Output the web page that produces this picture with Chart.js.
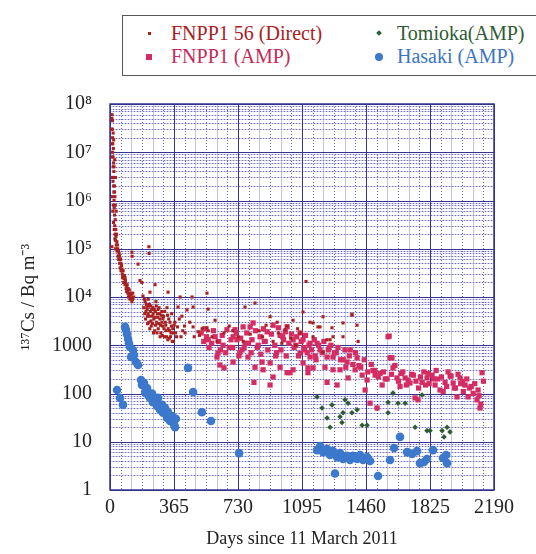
<!DOCTYPE html>
<html lang="en">
<head>
  <meta charset="UTF-8" />
  <title>137Cs concentration</title>
  <style>
    body {
      margin: 0;
      background: #ffffff;
      font-family: "Liberation Serif", serif;
    }
    .wrap {
      position: relative;
      width: 536px;
      height: 554px;
    }
    .legend {
      position: absolute;
      left: 122px;
      top: 15px;
      width: 420px;
      height: 61px;
      border: 1.5px solid #555;
      box-sizing: border-box;
      background: #fff;
    }
    .item {
      position: absolute;
      font-family: "Liberation Serif", "Times New Roman", serif;
      font-size: 20px;
      line-height: 22px;
      white-space: nowrap;
    }
    .mk {
      position: absolute;
      display: block;
    }
  </style>
  <script src="https://cdn.jsdelivr.net/npm/chart.js"></script>
</head>
<body>

<div class="wrap">
  <canvas id="chart" width="536" height="554"></canvas>
  <div class="legend">
    <div class="item" style="left:48px; top:6px; color:#a8201f;">FNPP1 56 (Direct)</div>
    <span class="mk" style="left:25px; top:16px; width:3px; height:3px; background:#a8201f;"></span>
    <div class="item" style="left:48px; top:29px; color:#c42a5a;">FNPP1 (AMP)</div>
    <span class="mk" style="left:23px; top:38px; width:6px; height:6px; background:#d42c63;"></span>
    <div class="item" style="left:274px; top:6px; color:#2f5b34;">Tomioka(AMP)</div>
    <span class="mk" style="left:254px; top:15px; width:4px; height:4px; background:#2f5b34; transform:rotate(45deg);"></span>
    <div class="item" style="left:274px; top:29px; color:#3c74c4;">Hasaki (AMP)</div>
    <span class="mk" style="left:252px; top:37px; width:8px; height:8px; border-radius:50%; background:#3c78cc;"></span>
  </div>
</div>

<script>
  // FNPP1 port (unit 5/6 outlet), direct sampling
  const directDays = [
    12, 13, 14, 15, 15, 16, 17, 18, 18, 19, 20, 20, 21, 22, 22, 23, 24, 25, 26, 27, 28, 29, 30, 31, 32, 33, 11,
    10, 11, 12, 13, 14, 14, 16, 17, 19, 20, 21, 23, 24, 26, 27, 28, 30, 31, 34, 35, 37, 39,
    36, 40, 44, 46, 50, 52, 55, 58, 60, 63, 66, 70, 72, 75, 78, 82, 85, 88, 92, 95, 98, 102, 106, 110, 115, 120, 125,
    42, 48, 54, 62, 68, 74, 80, 86, 90, 96, 100, 104, 108, 112, 118, 122, 128, 130, 135,
    125, 126, 160, 171, 182, 222, 223, 257, 331, 188, 228, 388, 400, 468, 474, 553, 559,
    200, 205, 210, 215, 218, 222, 225, 230, 235, 240, 245, 250, 255, 258, 262, 266, 270, 275, 280, 285, 290, 295,
    300, 305, 310, 315, 320, 325, 330, 335, 340, 345, 350, 355, 360, 370, 380,
    192, 196, 198, 203, 207, 212, 214, 217, 220, 224, 227, 232, 234, 238, 242, 246, 248, 252, 256, 260,
    264, 268, 272, 274, 278, 282, 286, 288, 292, 296, 298, 302, 308, 312, 318, 322, 328, 332, 338, 342,
    348, 352, 358, 362, 366, 374, 385, 395, 405, 415,
    410, 425, 428, 439, 455, 474, 480, 502, 510, 525, 553, 560, 582, 599, 610,
    650, 680, 700, 730, 760, 770, 800, 827,
    850, 870, 890, 913, 930, 953, 960, 980, 998, 1010, 1030, 1044, 1060, 1070, 1084, 1118,
    1101, 1141, 1158, 1158, 1186, 1198, 1215, 1215, 1238, 1255, 1266, 1272, 1329, 1329, 1380, 1380, 1409, 1415
  ];
  const directVals = [
    6e7, 3e7, 4.5e7, 2e7, 1e7, 1.5e7, 8e6, 5e6, 2.5e7, 1.2e7, 3e6, 6e6, 2e6, 1.5e6, 4e6, 1e6, 7e5, 2e6, 5e5, 3e5, 1.2e6, 2e5, 4e5, 1.5e5, 1e5, 2.5e5, 1.1e5,
    3e7, 5e7, 1.5e7, 8e6, 3e6, 1.2e6, 6e5, 2.5e6, 8e5, 3.5e5, 1.8e7, 5e6, 2.5e5, 1.5e6, 7e6, 1.6e5, 8e5, 3e6, 1.8e5, 6e5, 2e5, 1.4e5,
    1.2e5, 9e4, 1e5, 7e4, 6e4, 8e4, 5e4, 4e4, 6e4, 3.5e4, 4.5e4, 3e4, 2.5e4, 3.5e4, 2e4, 2.8e4, 1.8e4, 2.2e4, 1.5e4, 1.3e4, 1.8e4, 1.2e4, 1e4, 1.4e4, 9000, 1.1e4, 8000,
    1.2e5, 9e4, 7e4, 5e4, 3.8e4, 2.7e4, 2.4e4, 2.5e4, 1.9e4, 1.6e4, 1.4e4, 1.5e4, 1.15e4, 1.05e4, 1.2e4, 9500, 9000, 1.2e4, 1e4,
    8.5e4, 7e4, 4.8e4, 2.2e4, 2e4, 1.1e5, 8e4, 1.8e4, 1.26e4, 1.05e4, 1.26e4, 6200, 1e4, 1e4, 6200, 1.2e4, 5600,
    8000, 5000, 6000, 4000, 9000, 3000, 7000, 5000, 2500, 4000, 6000, 3500, 2000, 5000, 8000, 3000, 4500, 2200, 6000, 3500, 1800, 5000,
    2500, 4000, 1500, 3000, 2000, 6000, 1300, 3500, 2000, 1500, 2500, 1200, 1800, 3000, 1500,
    6000, 9000, 4500, 3500, 7000, 5500, 2800, 4500, 6500, 4000, 2200, 6500, 3200, 5500, 2800, 4500, 1800, 5500, 3800, 2600,
    6500, 1800, 3800, 5500, 2800, 4500, 1500, 2600, 4200, 3000, 1600, 3600, 2200, 5000, 2600, 1500, 4200, 2200, 1400, 3000,
    1800, 4500, 2200, 1200, 2600, 1800, 2400, 3500, 1500, 2000,
    4000, 2500, 1800, 5400, 3000, 2400, 1500, 1900, 1600, 2200, 2300, 2000, 1500, 3300, 1200,
    1800, 2500, 2000, 1500, 1200, 6200, 1700, 7500,
    2000, 1500, 2600, 3900, 1200, 3000, 1800, 1100, 2100, 2500, 1400, 3300, 1000, 2200, 1800, 2.1e4,
    4900, 3000, 2900, 1500, 2400, 2400, 3900, 720, 1300, 1300, 2300, 1500, 1500, 2900, 4200, 4400, 2600, 1200
  ];

  // FNPP1 port, automatic monitoring post
  const ampDays = [
    520, 535, 550, 565, 580, 599, 610, 616, 627, 645, 650, 667, 702, 702, 713, 724, 753, 759, 787, 799,
    816, 821, 827, 856, 867, 873, 896, 913, 913, 930, 930, 970, 970, 1010, 1010, 1027, 1044, 1044, 1084, 1084,
    1101, 1101, 1129, 1129, 1141, 1141, 1158, 1181, 1198, 1226, 1238, 1238, 1272, 1272, 1295, 1312, 1352, 1358, 1398, 1409,
    1438, 1455, 1466, 1483, 1512, 1523, 1552, 1586, 1592, 1597, 1608, 1614, 1637, 1654, 1683, 1711, 1740, 1757, 1780, 1808,
    1837, 1854, 1882, 1911, 1928, 1957, 1979, 1996, 2025, 2042, 2071, 2093, 2099, 2110, 2122,
    680, 740, 770, 840, 880, 950, 990, 1060, 1110, 1170, 1250, 1290, 1330, 1370, 1420, 1500, 1540, 1570, 1660, 1700,
    1730, 1760, 1790, 1820, 1870, 1900, 1940, 1970, 2010, 2060,
    540, 560, 590, 620, 630, 640, 660, 690, 700, 720, 735, 745, 765, 780, 790, 805, 810, 830, 845, 860,
    875, 885, 900, 920, 940, 945, 960, 975, 985, 1000, 1005, 1020, 1035, 1050, 1065, 1075, 1090, 1105, 1115, 1125,
    1135, 1150, 1165, 1175, 1190, 1210, 1220, 1245, 1260, 1280, 1300, 1315, 1340, 1345, 1365, 1385, 1400, 1430, 1450, 1470,
    1490, 1510, 1530, 1560, 1580, 1605, 1625, 1645, 1670, 1690, 1720, 1745, 1770, 1800, 1815, 1845, 1860, 1890, 1920, 1945,
    1965, 1985, 2000, 2015, 2035, 2050, 2080, 2105, 2115, 2130
  ];
  const ampVals = [
    1800, 1200, 1500, 900, 1100, 1500, 570, 690, 390, 1000, 340, 2100, 1500, 450, 2100, 1300, 800, 2400, 570, 2400,
    2900, 170, 350, 1500, 450, 310, 1900, 150, 430, 2600, 220, 1600, 350, 2400, 270, 270, 1300, 310, 1800, 690,
    1300, 430, 340, 270, 570, 1100, 340, 1100, 800, 350, 170, 570, 570, 310, 150, 310, 450, 210, 310, 550,
    240, 118, 190, 63, 240, 50, 150, 1500, 1550, 550, 550, 340, 210, 140, 210, 165, 81, 74, 170, 210,
    240, 150, 118, 170, 280, 165, 85, 210, 150, 85, 100, 74, 118, 50, 270,
    900, 700, 1100, 900, 1200, 700, 1300, 1000, 800, 600, 900, 700, 500, 800, 380, 300, 260, 200, 260, 190,
    240, 130, 280, 160, 200, 110, 230, 130, 180, 140,
    2200, 1300, 2000, 1200, 800, 1600, 700, 1300, 900, 1800, 600, 1400, 900, 1800, 1100, 700, 1300, 2000, 1000, 650,
    2200, 1200, 800, 1700, 1000, 600, 2300, 800, 1500, 1900, 600, 1100, 1700, 900, 1500, 600, 1200, 900, 1600, 700,
    1000, 800, 1300, 500, 1000, 700, 1200, 800, 1000, 700, 900, 500, 800, 350, 600, 400, 700, 350, 500, 280,
    400, 300, 220, 280, 200, 250, 380, 180, 280, 150, 250, 180, 220, 150, 260, 200, 300, 220, 140, 230,
    130, 250, 160, 110, 200, 130, 160, 90, 60, 180
  ];

  // Tomioka fishing port
  const tomiokaDays = [
    1181, 1209, 1238, 1266, 1255, 1312, 1329, 1323, 1358, 1341, 1380, 1409, 1438, 1466,
    1523, 1586, 1586, 1614, 1643, 1683, 1740, 1780, 1808, 1825, 1894, 1922, 1939, 1905
  ];
  const tomiokaVals = [
    85, 50, 31, 58, 20, 33, 40, 25, 63, 74, 40, 46, 22, 22,
    50, 66, 40, 102, 63, 63, 20, 93, 17, 17, 17, 20, 16, 12.6
  ];

  // Hasaki (reference site)
  const hasakiDays = [
    40, 57, 74, 86, 91, 97, 103, 108, 114, 120, 131, 137, 148, 160,
    177, 182, 194, 200, 211, 217, 228, 240, 245, 257, 268, 274, 285, 297, 302, 314, 325, 331, 342, 354, 365, 376, 371,
    445, 474, 524, 576, 736,
    1181, 1198, 1215, 1238, 1255, 1272, 1295, 1312, 1329, 1352, 1369, 1386, 1409, 1426, 1443, 1466, 1483,
    1283, 1529, 1597, 1620, 1654, 1694, 1723, 1751, 1768, 1791, 1808, 1842, 1899, 1917, 1922
  ];
  const hasakiVals = [
    118, 81, 58, 2400, 2100, 1700, 1350, 1100, 920, 570, 800, 630, 450, 390,
    190, 150, 165, 107, 130, 93, 81, 100, 66, 74, 55, 81, 46, 58, 40, 50, 31, 41, 27, 34, 23, 30, 20,
    340, 107, 41, 27, 5.8,
    6.7, 8.1, 6.1, 7.1, 5.3, 6.4, 4.8, 5.8, 4.4, 5.1, 4.2, 5.1, 4.4, 5.3, 4.2, 4.8, 4.0,
    2.2, 1.95, 4.2, 7.4, 12.6, 6.1, 5.6, 6.4, 3.6, 3.8, 4.4, 6.7, 4.6, 5.3, 3.6
  ];

  const xTicks = [0, 365, 730, 1095, 1460, 1825, 2190];
  const yTicks = [1, 10, 100, 1000, 1e4, 1e5, 1e6, 1e7, 1e8];
  const yTickLabels = ['1', '10', '100', '1000', '10\u2074', '10\u2075', '10\u2076', '10\u2077', '10\u2078'];

  const pts = (d, v) => d.map((x, i) => ({ x: x, y: v[i] }));

  // graph-paper grid drawn behind the points
  const paperGrid = {
    id: 'paperGrid',
    beforeDatasetsDraw(chart) {
      const { ctx, chartArea: a, scales: { x, y } } = chart;
      ctx.save();
      ctx.lineWidth = 1;
      // horizontal log lines
      for (let n = 0; n < 8; n++) {
        for (let k = 2; k < 10; k++) {
          const py = Math.round(y.getPixelForValue(k * Math.pow(10, n))) + 0.5;
          ctx.setLineDash([]);
          ctx.strokeStyle = 'rgba(140,140,200,0.45)';
          ctx.beginPath();
          ctx.moveTo(a.left, py);
          ctx.lineTo(a.right, py);
          ctx.stroke();
          ctx.setLineDash([1, 2]);
          ctx.strokeStyle = 'rgba(40,40,140,0.55)';
          ctx.beginPath();
          ctx.moveTo(a.left, py);
          ctx.lineTo(a.right, py);
          ctx.stroke();
        }
      }
      // vertical lines
      for (let i = 0; i <= 36; i++) {
        const px = Math.round(x.getPixelForValue(i * 365 / 6)) + 0.5;
        ctx.beginPath();
        if (i % 6 === 0) {
          ctx.setLineDash([]);
          ctx.strokeStyle = '#35358f';
        } else if (i % 2 === 1) {
          ctx.setLineDash([1, 2]);
          ctx.strokeStyle = 'rgba(40,40,140,0.7)';
        } else {
          ctx.setLineDash([]);
          ctx.strokeStyle = 'rgba(140,140,200,0.5)';
        }
        ctx.moveTo(px, a.top);
        ctx.lineTo(px, a.bottom);
        ctx.stroke();
      }
      // decade lines
      ctx.setLineDash([]);
      ctx.strokeStyle = '#35358f';
      yTicks.forEach(v => {
        const py = Math.round(y.getPixelForValue(v)) + 0.5;
        ctx.beginPath();
        ctx.moveTo(a.left, py);
        ctx.lineTo(a.right, py);
        ctx.stroke();
      });
      ctx.lineWidth = 1.5;
      ctx.strokeRect(a.left, a.top, a.right - a.left, a.bottom - a.top);
      ctx.restore();
    }
  };

  const serif = "'Liberation Serif', 'Times New Roman', serif";

  new Chart(document.getElementById('chart'), {
    type: 'scatter',
    data: {
      datasets: [
        {
          label: 'FNPP1 56 (Direct)',
          data: pts(directDays, directVals),
          pointStyle: 'rect',
          pointRadius: 2.2,
          backgroundColor: '#a8201f',
          borderWidth: 0,
          order: 1
        },
        {
          label: 'FNPP1 (AMP)',
          data: pts(ampDays, ampVals),
          pointStyle: 'rect',
          pointRadius: 3.7,
          backgroundColor: '#d42c63',
          borderWidth: 0,
          order: 2
        },
        {
          label: 'Tomioka(AMP)',
          data: pts(tomiokaDays, tomiokaVals),
          pointStyle: 'rectRot',
          pointRadius: 2.8,
          backgroundColor: '#2f5b34',
          borderWidth: 0,
          order: 3
        },
        {
          label: 'Hasaki (AMP)',
          data: pts(hasakiDays, hasakiVals),
          pointStyle: 'circle',
          pointRadius: 4.3,
          backgroundColor: '#3c78cc',
          borderWidth: 0,
          order: 4
        }
      ]
    },
    options: {
      responsive: false,
      animation: false,
      devicePixelRatio: 1,
      layout: { padding: { top: 104, right: 42, left: 0, bottom: 0 } },
      plugins: {
        legend: { display: false },
        tooltip: { enabled: false }
      },
      scales: {
        x: {
          type: 'linear',
          min: 0,
          max: 2190,
          afterBuildTicks: s => { s.ticks = xTicks.map(v => ({ value: v })); },
          afterFit: s => { s.height = 64; },
          grid: { display: false, drawTicks: false, tickLength: 0 },
          border: { display: false },
          ticks: {
            color: '#222',
            font: { family: serif, size: 20 },
            padding: 6,
            maxRotation: 0,
            callback: v => String(v)
          },
          title: {
            display: true,
            text: 'Days since 11 March 2011',
            color: '#222',
            font: { family: serif, size: 18 },
            padding: { top: 14 }
          }
        },
        y: {
          type: 'logarithmic',
          min: 1,
          max: 1e8,
          afterBuildTicks: s => { s.ticks = yTicks.map(v => ({ value: v })); },
          afterFit: s => { s.width = 110; },
          grid: { display: false },
          border: { display: false },
          ticks: {
            color: '#222',
            font: { family: serif, size: 20 },
            padding: 10,
            callback: v => yTickLabels[yTicks.indexOf(v)]
          },
          title: {
            display: true,
            text: '\u00b9\u00b3\u2077Cs / Bq m\u207b\u00b3',
            color: '#222',
            font: { family: serif, size: 19 },
            padding: { bottom: 0, top: 18 }
          }
        }
      }
    },
    plugins: [paperGrid]
  });
</script>

</body>
</html>
